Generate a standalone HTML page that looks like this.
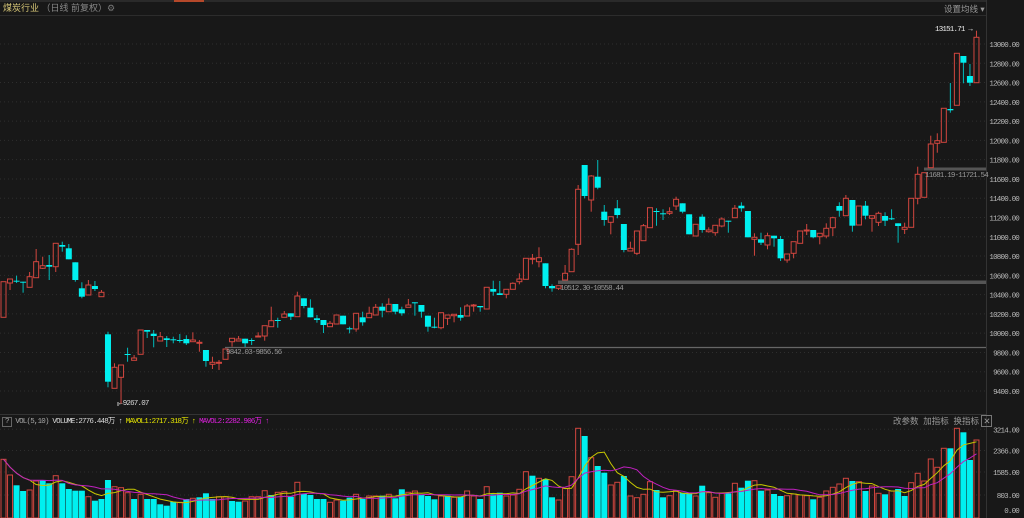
<!DOCTYPE html>
<html><head><meta charset="utf-8">
<style>
html,body{margin:0;padding:0;background:#181818;overflow:hidden}
#c{position:relative;width:1024px;height:518px;background:#181818;font-family:"Liberation Mono","Noto Sans CJK SC",monospace}
.t{position:absolute;font-size:7.5px;letter-spacing:-0.8px;white-space:nowrap;line-height:10px}
</style></head><body>
<div id="c">
<svg id="s" width="1024" height="518" style="position:absolute;left:0;top:0"></svg>
<div class="t" style="left:3px;top:3px;font-size:9px;letter-spacing:0;color:#d8c878;font-family:'Liberation Sans','Noto Sans CJK SC',sans-serif">煤炭行业 <span style="color:#888">（日线 前复权）</span><span style="color:#777">⚙</span></div>
<div class="t" style="left:944px;top:4px;font-size:8.5px;letter-spacing:0;color:#999;font-family:'Liberation Sans','Noto Sans CJK SC',sans-serif">设置均线 ▾</div>
<div class="t" style="left:935px;top:25px;color:#eee">13151.71 →</div>
<div class="t" style="left:119px;top:399px;color:#ddd">←9267.07</div>
<div class="t" style="left:226px;top:348px;color:#999">9842.03-9856.56</div>
<div class="t" style="left:560px;top:284px;color:#999">10512.30-10558.44</div>
<div class="t" style="left:925px;top:171px;color:#999">11681.19-11721.54</div>
<div class="t" style="left:2px;top:417px;color:#aaa"><span style="border:1px solid #666;padding:0 2px">?</span> VOL(5,10) <span style="color:#ddd">VOLUME:2776.448万</span> <span style="color:#ddd">↑</span> <span style="color:#e6e600">MAVOL1:2717.318万 ↑</span> <span style="color:#e020e0">MAVOL2:2282.906万 ↑</span></div>
<div class="t" style="left:893px;top:416px;color:#999;font-size:8.5px;letter-spacing:0;font-family:'Liberation Sans','Noto Sans CJK SC',sans-serif">改参数 &nbsp;加指标 &nbsp;换指标 <span style="border:1px solid #777;padding:0 1px">✕</span></div>
</div>
<script>
var s=document.getElementById('s'),h='';
function L(x1,y1,x2,y2,c,w,d){h+='<line x1="'+x1+'" y1="'+y1+'" x2="'+x2+'" y2="'+y2+'" stroke="'+c+'" stroke-width="'+(w||1)+'"'+(d?' stroke-dasharray="'+d+'"':'')+'/>';}
function T(x,y,t,c){h+='<text x="'+x+'" y="'+y+'" fill="'+c+'" font-size="7.5" letter-spacing="-0.8" text-anchor="end" font-family="Liberation Mono,monospace">'+t+'</text>';}
h+='<rect x="0" y="0" width="986" height="2" fill="#2a2a2a"/><rect x="174" y="0" width="30" height="2" fill="#b5482a"/>';
L(0,15.5,986,15.5,'#2c2c2c');
L(986.5,0,986.5,518,'#333');
L(0,414.5,986,414.5,'#333');
for(var p=9400;p<=13000;p+=200){var y=44+(13000-p)*0.09639;L(0,y,986,y,'#2e2e2e',1,'1,3');T(1019,y+3,p.toFixed(2),'#bbb');}
var vl=[[3214,429.3],[2366,450.5],[1585,472],[803,495]];vl.forEach(function(v){L(0,v[1],986,v[1],'#2e2e2e',1,'1,3');T(1019,v[1]+3,v[0].toFixed(2),'#bbb');});
T(1019,513,'0.00','#bbb');
L(225,347.5,986,347.5,'#666',1.2);
h+='<rect x="558" y="280.5" width="428" height="3.5" fill="#555"/>';
h+='<rect x="924" y="167.5" width="62" height="3" fill="#555"/>';
L(118,402,118,406,'#ccc');
var K=[['r',281.7,317.3],['r',279,283,279,290],['c',280.7,281.7,275.7,283],['c',281.7,282.7,281.7,292.7],['r',276.7,287.3,272,287.3],['r',261.7,277.7,249,277.7],['r',265.7,268.3,256.7,269],['c',265,266.7,255,280],['r',243.3,266.7,243.3,272],['c',245,246.7,241.7,251.7],['c',248.3,259.3,244,259.3],['c',262.3,280,262.3,281.7],['c',288.3,296.7,282.3,298.3],['r',285,295,280,295],['c',286,289,281,291],['r',292.3,296.7,290,296.7],
['c',334.3,381.7,331.7,387.3],['r',367.3,388.3,363.3,388.3],['r',365,377.3,365,404],['c',354,355,347.7,361.7],['r',358,360.3,355,360.3],['r',330,354.3],['c',330,331.7,330,338],['c',333.7,336,330,347.3],['r',336.7,341,332,341],['c',338.3,340,336,347],['c',339.3,340,336.7,343.3],['c',340,341,334,342.7],['c',339,343.3,335.3,345],['r',340,341.7,332.3,341.7],['r',342.3,343.3,340,351.7],['c',350,361,350,366.7],['r',362.3,364.3,356.7,369],['r',362.3,363.3,360,370],['r',349,359.3],['r',338.3,341.7,338.3,346.7],['r',339,341,336,341.3],['c',338.7,343.3,338.7,347],['c',340,341,338.3,345],['r',336,336.7,332.3,336.7],['r',325.7,336,325.7,340.7],['r',320.7,326.7,306.7,326.7],['c',320,321,317.7,327.7],['r',314,317.3,311,317.3],['c',313.3,316.7,313.3,320],['r',296,316.7,291.7,316.7],['c',298.3,306,298.3,308.3],['c',307.7,317.3,299.3,317.3],['c',318.3,320,315,322.7],['c',320,325,320,333],['r',323.3,326.7,321,326.7],['r',315,324],
['c',315.7,324.3],['c',328.3,329.3,326.7,333.3],['r',313.3,329,313.3,331.7],['c',317.3,322.3,311.7,325.7],['r',313.3,317.7,306.7,317.7],['r',307.3,315,304,315],['c',306.7,310.7,303.3,317.3],['r',304.3,311.7,298.3,311.7],['c',304,311.7,304,314.3],['c',309.3,313.3,306.7,315.7],['r',305,307.3,299,307.3],['c',302.3,303.3,302.3,315.7],['c',305,311.7,305,317.7],['c',315.7,326.7,315.7,331.7],['c',326.7,327.7,317.7,328.3],['r',312.7,327.7,312.7,329.3],['r',315,318.3,315,325],['r',314.3,315.7,314.3,322.3],['c',315,317.7,307.3,320.7],['r',306,316,304,316],['r',305,306,304,311.7],['c',306,307.3,306,311.7],['r',287.3,309],['c',289,291.7,280.7,295.7],['c',293.3,295,281,295],['r',289.3,294.3,289.3,298.3],['r',283.3,289.3,282.3,289.3],['r',279,281.7,273.3,284.3],['r',258.3,279.3],['r',258.3,259.3,254,264.3],['r',257.7,261.7,247.3,267.3],['c',263.3,286,263.3,288.3],['c',286,288.3,284.3,291.7],['r',285.7,288.3,285.7,290],['r',273.3,280,265,280],['r',249.3,271.7,248.3,271.7],['r',189.3,244.3,185,255],['c',165,196,165,198.3],['r',176,200,175,211.7],['c',176.7,187.7,160,189.3],['c',211.7,220,205,225.7],['r',216.7,222.3,216.7,234.3],['c',208.3,215,200,218.3],['c',224,250,224,252.3],['r',248.3,251,241.7,251],['r',231,253.3,231,255],['r',225.7,240.7,224,240.7],['r',207.7,227.7],['c',211,211.7,208.3,225.7],['c',213.3,214.3,209.3,220],
['r',211.7,213.3,207.3,215],['r',199.3,206,196.7,210],['c',203.3,211.7,203.3,213.3],['c',214.3,234.3],['r',224.3,236],['c',216.7,230,214.3,232.7],['r',230,231.7,227.3,232.7],['r',225.3,232.7,225.3,235.7],['r',219,226,217.3,227.3],['c',220.7,221.7,220.7,232.7],['r',208.3,217.7,205,217.7],['c',205.7,208.3,202.3,211.7],['c',211,237.3],['r',237.3,239.3,233.3,255.7],['c',239.3,242.7,232.7,245],['r',235.7,245,232.7,249.3],['c',235.7,238.3,235.7,246.7],['c',239,258.3,236,261],['r',254,260,254,262.7],['r',241.7,253.3,241.7,258.3],['r',231,243.3],['r',230,231,224,235],['c',230,237.3,230,238.3],['r',233.3,236.7,233.3,244.3],['r',228.3,236,223.3,238.3],['r',217.7,227.7,216.7,236],['c',206,210.7,202.3,216.7],['r',198.3,215.7,195,215.7],['c',200,225.7,200,231.7],['r',206,225],['c',205.7,215.7,201,219.3],['r',215.7,218.3,215.7,231.7],['r',213.3,222.3,211.7,226],['c',216,220.7,212.3,226],['c',218.3,219.3,209.3,220],['c',223.3,226,223.3,242.7],['r',227.3,229.3,222.7,234],['r',198.3,227.3],['r',174.3,198.3,166.7,204.3],['r',172.7,197.3],['r',144,167.7,135.7,167.7],['r',140.7,143.3,133.3,152.7],['r',108.3,142.3],['c',109,110.3,83,112.7],['r',53.3,105.3],['c',56,62.7,56,83.3],['c',76,82.7,64,86],['r',37.3,82.7,30.7,82.7]];
var V=[['r',459.3],['r',475],['c',485.3],['c',491],['r',490],['r',481],['c',480],['c',483.3],['r',475.7],['c',483.3],['c',489],['c',490.7],['c',490.7],['r',496.7],['c',500.7],['c',499],['c',480],['r',486.7],['r',487.7],['r',492.7],['c',499],['r',494.3],['c',499],['c',499],['c',504.3],['c',505.7],['c',501.7],['r',502.3],['c',499],['r',498.3],['c',497.3],['c',493.3],['c',499],['r',496.7],['r',496.7],['c',501],['c',501.7],['r',501],['r',496.7],['r',496.7],['r',490.7],['c',495],['r',492.3],['r',491.7],['c',496.7],['r',482.3],['c',494],['c',495],['c',499],['c',499],['r',502.3],['r',500],['c',500.7],['c',497.7],['r',494.3],['c',499],['r',496],['r',496],['c',495.7],['r',494.3],['c',498.3],['c',489.3],['r',492.3],['r',491],['c',495],['c',496],['c',499.3],['r',496],['c',495.7],['r',497.3],['c',496.7],['r',491],['r',496],['c',499],['r',486.7],['c',494.3],['c',492.7],['r',496],['r',495],['r',489.3],['r',471.7],['c',475.7],['r',478.3],['c',479],['c',497.3],['r',500],['r',488.3],['r',476.7],['r',428.3],['c',436],['r',457.7],['c',466],['c',472.7],['r',485],['r',482.3],['c',476],['r',496],['r',497.7],['r',494.3],['r',481.7],['c',490],['c',497.3],['r',495.7],['r',490.7],['c',492.7],['c',492.7],['r',496],['c',485.7],['r',492.7],['r',497.3],['r',493.3],['c',493.3],['r',483.3],['c',487.7],['c',480.7],['r',480.7],['c',490.7],['r',490],['c',494],['c',496],['r',495.7],['r',494],['r',495],['r',495.7],['c',499.3],['r',497.3],['r',491],['r',487.3],['r',484],['r',478.3],['c',481],['r',481.7],['c',491],['r',486],['r',493.3],['c',494.3],['r',491],['c',489],['c',496],['r',482.7],['r',473.3],['r',481],['r',459],['r',467.3],['r',448.3],['c',448.3],['r',428.3],['c',432.3],['c',460],['r',440]];
var RC='#d2463f',CY='#00f0f0';
function X(i){return 3.5+6.53*i;}
K.forEach(function(k,i){var x=X(i),t=k[1],b=k[2],hi=k[3]===undefined?t:k[3],lo=k[4]===undefined?b:k[4];if(b-t<1)b=t+1;
 if(k[0]=='r'){if(hi<t)L(x,hi,x,t,RC);if(lo>b)L(x,b,x,lo,RC);h+='<rect x="'+(x-2.5)+'" y="'+t+'" width="5" height="'+(b-t)+'" fill="none" stroke="'+RC+'"/>';}
 else{L(x,hi,x,lo,'#0bb');h+='<rect x="'+(x-3)+'" y="'+t+'" width="6" height="'+(b-t)+'" fill="'+CY+'"/>';}});
var vol=[];V.forEach(function(v,i){var x=X(i),t=v[1];vol.push((517-t)/0.0273);
 if(v[0]=='r')h+='<rect x="'+(x-2.5)+'" y="'+t+'" width="5" height="'+(518-t)+'" fill="none" stroke="'+RC+'"/>';
 else h+='<rect x="'+(x-3)+'" y="'+t+'" width="6" height="'+(518-t)+'" fill="'+CY+'"/>';});
function ma(n,c){var pts=[];for(var i=0;i<vol.length;i++){var a=0,m=0;for(var j=Math.max(0,i-n+1);j<=i;j++){a+=vol[j];m++;}pts.push(X(i).toFixed(1)+','+(517-a/m*0.0273).toFixed(1));}h+='<polyline points="'+pts.join(' ')+'" fill="none" stroke="'+c+'" stroke-width="1"/>';}
ma(5,'#c8c800');ma(10,'#c020c0');
s.innerHTML=h;
</script>
</body></html>
